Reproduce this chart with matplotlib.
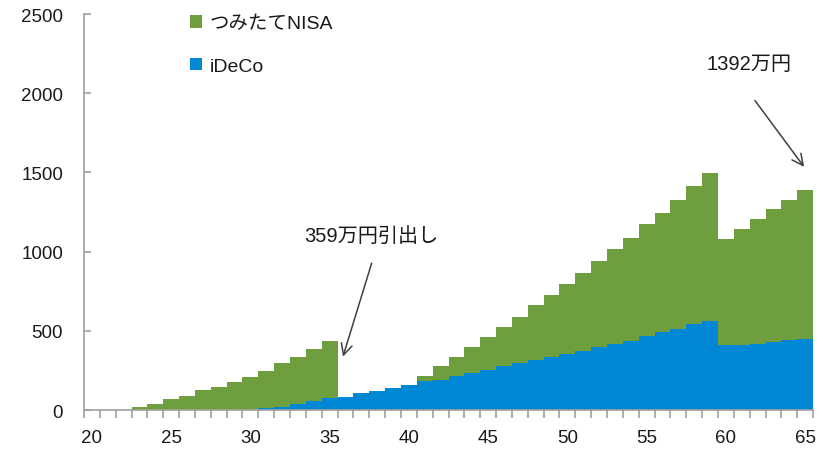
import matplotlib
matplotlib.use("Agg")
import matplotlib.pyplot as plt
from matplotlib.patches import Patch
import numpy as np

plt.rcParams['font.family'] = ['Liberation Sans', 'Noto Sans CJK JP', 'DejaVu Sans']

# 年齢ごとの残高（万円）
ages = list(range(20, 66))
ideco = [0, 0, 0, 0, 0, 0, 0, 0, 0, 0, 0,
         11, 21, 40, 55, 74, 85, 106, 118, 138, 159,
         180, 191, 212, 231, 252, 275, 294, 315, 337, 355,
         375, 396, 417, 438, 470, 491, 512, 544, 565, 408,
         411, 419, 430, 440, 451]
nisa = [0, 0, 0, 19, 40, 72, 91, 124, 145, 177, 209,
        237, 273, 292, 330, 359, 0, 0, 0, 0, 0,
        32, 84, 125, 167, 209, 250, 294, 345, 387, 441,
        493, 546, 599, 650, 703, 756, 817, 868, 932, 672,
        730, 786, 836, 889, 941]
xtick_ages = [20, 25, 30, 35, 40, 45, 50, 55, 60, 65]
withdraw_age = 35
final_age = 65

green = '#6F9E3F'
blue = '#0088D4'
axis_gray = '#A0A0A0'
text_col = '#1A1A1A'

fig = plt.figure(figsize=(8.23, 4.52), dpi=100)
ax = fig.add_axes([0.102, 0.0907, 0.886, 0.876])

# 隙間なく積み上げる（境界の継ぎ目を出さない）
ax.bar(ages, ideco, width=1.0, color=blue, linewidth=0, antialiased=False)
ax.bar(ages, nisa, width=1.0, bottom=ideco, color=green, linewidth=0, antialiased=False)

ax.set_xlim(ages[0] - 0.5, ages[-1] + 0.5)
ax.set_ylim(0, 2500)

for side in ['top', 'right']:
    ax.spines[side].set_visible(False)
for side in ['left', 'bottom']:
    ax.spines[side].set_color(axis_gray)
    ax.spines[side].set_linewidth(1.2)

ax.set_yticks([0, 500, 1000, 1500, 2000, 2500])
ax.tick_params(axis='y', direction='in', length=5, width=1.2, color=axis_gray,
               pad=15, labelsize=13.5, labelcolor=text_col)

# 目盛り線は区間の境界、ラベルは区間の中央
ax.set_xticks(xtick_ages)
ax.set_xticks(np.arange(ages[0] - 0.5, ages[-1] + 1), minor=True)
ax.tick_params(axis='x', which='major', length=0, pad=14, labelsize=13.5, labelcolor=text_col)
ax.tick_params(axis='x', which='minor', direction='out', length=6, width=1.2, color=axis_gray)

handles = [Patch(facecolor=green, edgecolor='none'), Patch(facecolor=blue, edgecolor='none')]
ax.legend(handles, ['つみたてNISA', 'iDeCo'], loc='upper left',
          bbox_to_anchor=(0.231, 0.964), bbox_transform=fig.transFigure,
          frameon=False, borderpad=0, borderaxespad=0, fontsize=14,
          handlelength=0.62, handleheight=0.62, handletextpad=0.4, labelspacing=1.3,
          labelcolor=text_col)

# 引き出し時と最終残高の注記
i_w = ages.index(withdraw_age)
ax.text(withdraw_age + 2.65, 1099, f'{nisa[i_w]}万円引出し', ha='center', va='center',
        fontsize=14.5, color=text_col)
ax.annotate('', xy=(withdraw_age + 0.84, 337), xytext=(withdraw_age + 2.65, 927),
            arrowprops=dict(arrowstyle='->', color='#404040', lw=1.1,
                            shrinkA=0, shrinkB=0, mutation_scale=20))

i_f = ages.index(final_age)
ax.text(final_age - 3.54, 2186, f'{ideco[i_f] + nisa[i_f]}万円', ha='center', va='center',
        fontsize=14.5, color=text_col)
ax.annotate('', xy=(final_age - 0.07, 1535), xytext=(final_age - 3.17, 1954),
            arrowprops=dict(arrowstyle='->', color='#404040', lw=1.1,
                            shrinkA=0, shrinkB=0, mutation_scale=20))

fig.savefig('out.png', dpi=100)
